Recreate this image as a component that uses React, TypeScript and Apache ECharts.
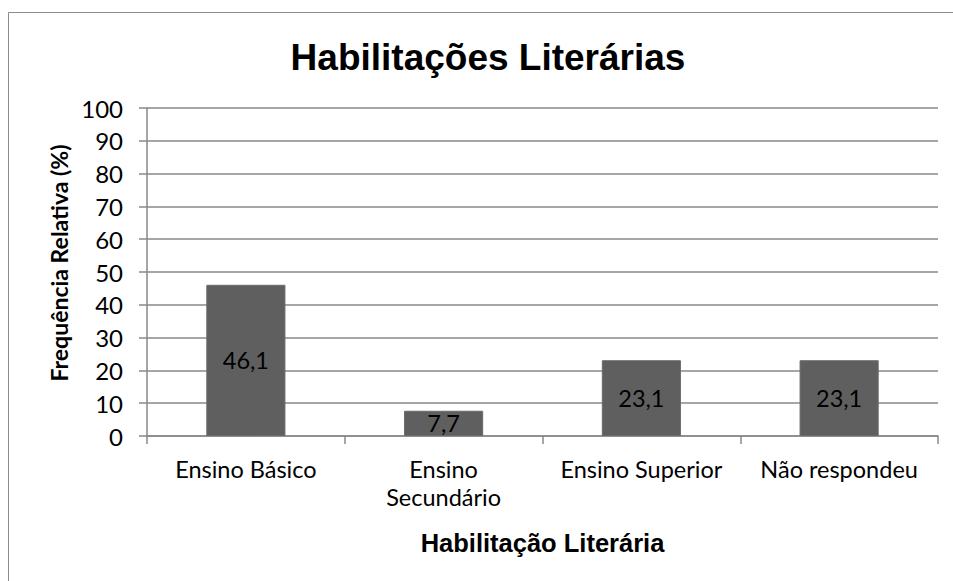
import React, { useEffect, useRef } from "react";
import * as echarts from "echarts";

const categories = ["Ensino Básico", "Ensino\nSecundário", "Ensino Superior", "Não respondeu"];
const values = [46.1, 7.7, 23.1, 23.1];
const yTicks = { min: 0, max: 100, interval: 10 };
const chartTitle = "Habilitações Literárias";
const yAxisName = "Frequência Relativa (%)";
const xAxisName = "Habilitação Literária";

export default function App() {
  const ref = useRef<HTMLDivElement>(null);
  useEffect(() => {
    if (!ref.current) return;
    const chart = echarts.init(ref.current, null, { renderer: "svg" });
    const gridColor = "#888888";
    chart.setOption({
      animation: false,
      backgroundColor: "#ffffff",
      title: {
        text: chartTitle,
        left: 488,
        textAlign: "center",
        top: 39,
        padding: 0,
        textStyle: { fontFamily: "Liberation Sans", fontWeight: "bold", fontSize: 37, color: "#000" },
      },
      graphic: [
        {
          type: "rect",
          shape: { x: 8.5, y: 12.5, width: 1000, height: 700 },
          style: { fill: "none", stroke: "#8c8c8c", lineWidth: 1 },
          silent: true,
        },
      ],
      grid: { left: 147, right: 15, top: 108, bottom: 145, containLabel: false },
      xAxis: {
        type: "category",
        data: categories,
        axisLine: { lineStyle: { color: gridColor, width: 1.5 } },
        axisTick: { show: true, alignWithLabel: false, length: 8, lineStyle: { color: gridColor, width: 1.5 } },
        axisLabel: { fontFamily: "Lato", fontSize: 23.5, color: "#000", margin: 19, lineHeight: 28, interval: 0 },
        name: xAxisName,
        nameLocation: "middle",
        nameGap: 94,
        nameTextStyle: { fontFamily: "Liberation Sans", fontWeight: "bold", fontSize: 25.5, color: "#000" },
      },
      yAxis: {
        type: "value",
        min: yTicks.min,
        max: yTicks.max,
        interval: yTicks.interval,
        axisLine: { show: true, lineStyle: { color: gridColor, width: 1.5 } },
        axisTick: { show: true, inside: false, length: 8, lineStyle: { color: gridColor, width: 1.5 } },
        splitLine: { show: true, lineStyle: { color: gridColor, width: 1.5 } },
        axisLabel: { fontFamily: "Lato", fontSize: 24, color: "#000", margin: 24 },
        name: yAxisName,
        nameLocation: "middle",
        nameGap: 76,
        nameTextStyle: { fontFamily: "Lato", fontWeight: "bold", fontSize: 23, color: "#000", padding: [0, 0, 0, 18] },
      },
      series: [
        {
          type: "bar",
          data: values,
          barWidth: "40%",
          itemStyle: { color: "#5f5f5f", borderColor: "#6a6a6a", borderWidth: 1 },
          label: {
            show: true,
            position: "inside",
            formatter: (p: any) => String(p.value).replace(".", ","),
            fontFamily: "Lato",
            fontSize: 23.5,
            color: "#000",
          },
        },
      ],
    });
    return () => chart.dispose();
  }, []);
  return <div ref={ref} style={{ width: 953, height: 581, position: "absolute", left: 0, top: 0 }} />;
}
